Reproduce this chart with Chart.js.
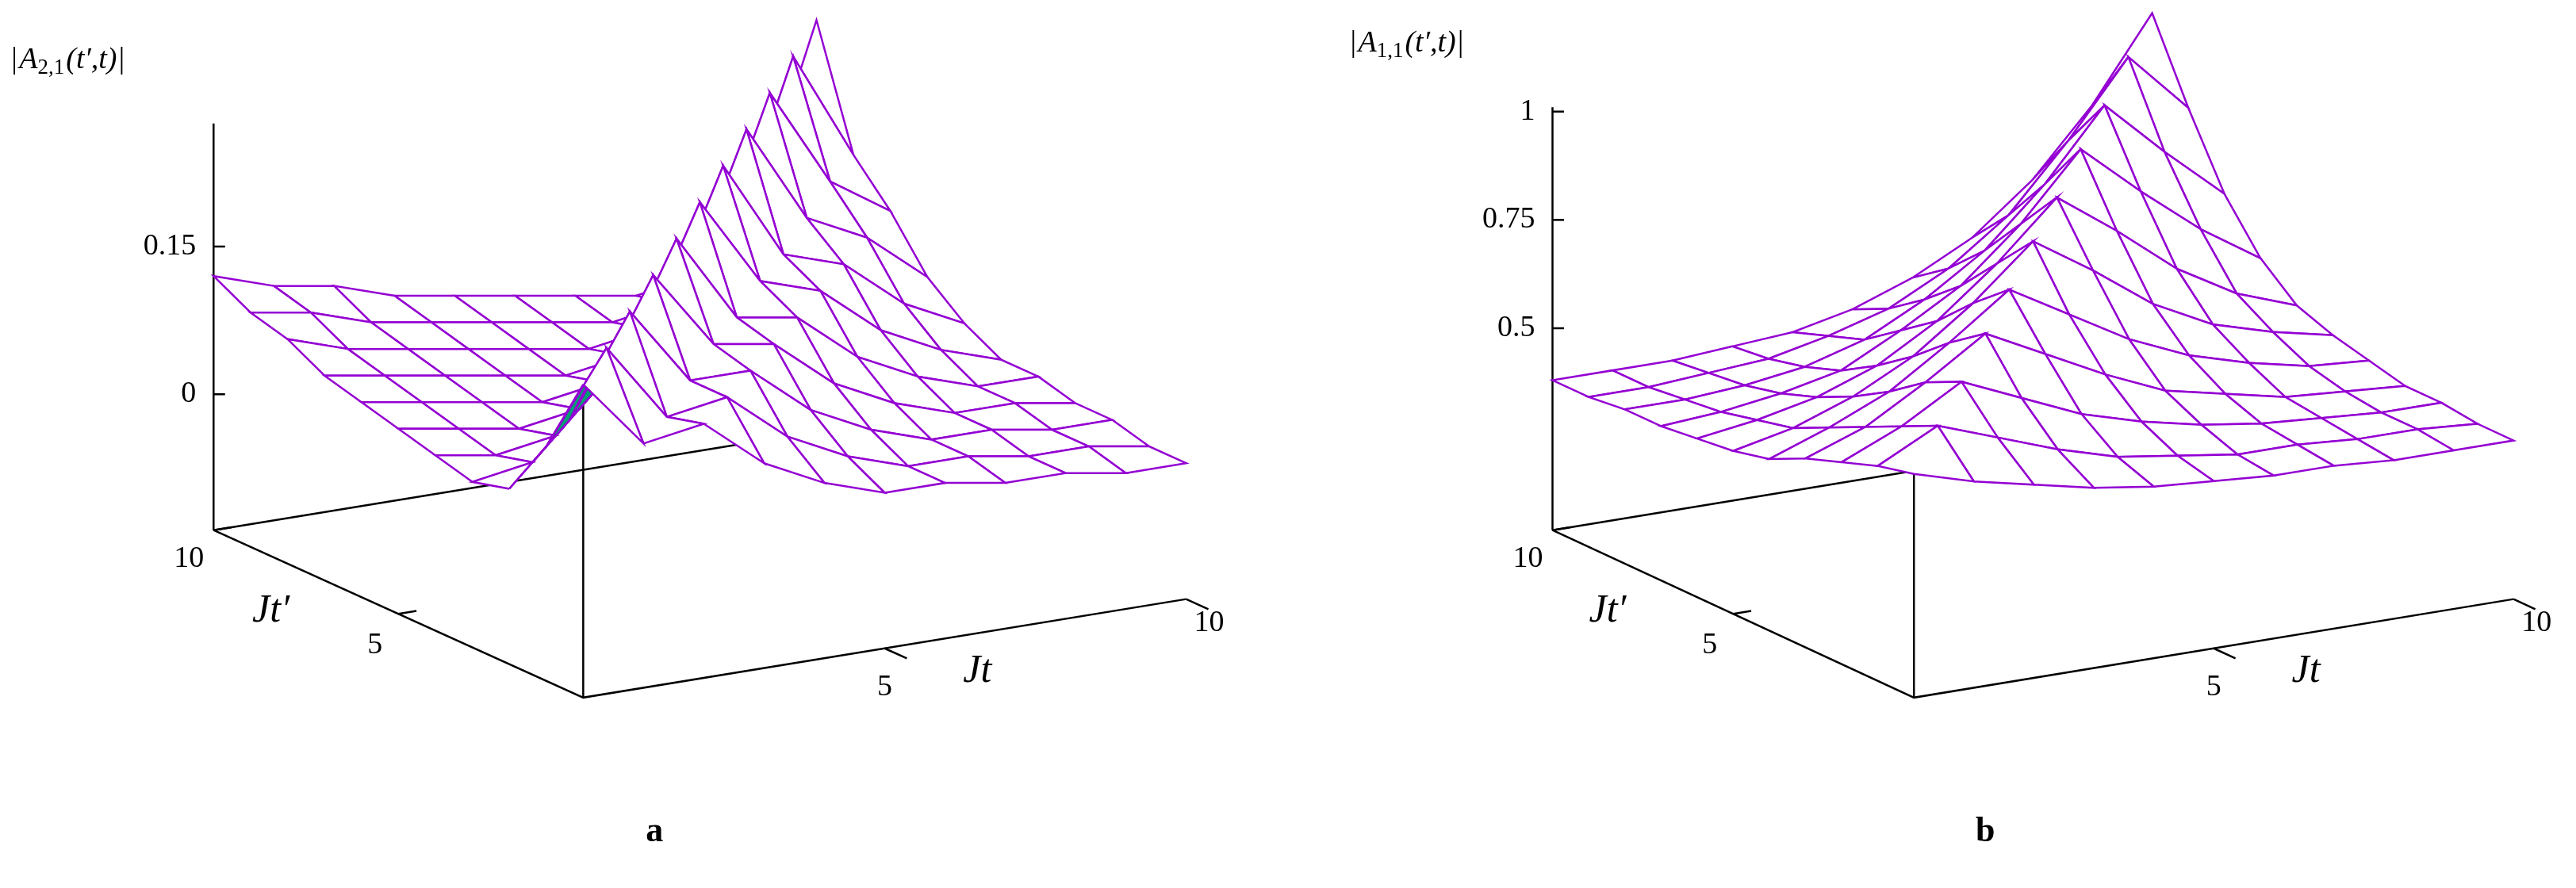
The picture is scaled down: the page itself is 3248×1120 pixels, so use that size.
<!DOCTYPE html>
<html>
<head>
<meta charset="utf-8">
<script src="https://cdn.jsdelivr.net/npm/chart.js@4/dist/chart.umd.min.js"></script>
<style>
  body { margin: 0; background: #fff; }
  canvas { display: block; }
</style>
</head>
<body>
<canvas id="chart" width="3248" height="1120"></canvas>
<script>
// grid axes (Jt' rows, Jt columns)
const tPrimeValues = [0, 1, 2, 3, 4, 5, 6, 7, 8, 9, 10];
const tValues = [0, 1, 2, 3, 4, 5, 6, 7, 8, 9, 10];

// |A_{2,1}(t',t)| (rows = Jt')
const a21 = [
  [0.18, 0.11, 0.12, 0.07, 0.04, 0.02, 0.02, 0.01, 0.01, 0.00, 0.00],
  [0.10, 0.19, 0.11, 0.12, 0.07, 0.04, 0.02, 0.02, 0.01, 0.01, 0.00],
  [0.04, 0.10, 0.20, 0.12, 0.12, 0.07, 0.04, 0.02, 0.02, 0.01, 0.01],
  [0.03, 0.04, 0.10, 0.21, 0.13, 0.12, 0.07, 0.04, 0.02, 0.02, 0.01],
  [0.04, 0.03, 0.04, 0.10, 0.22, 0.13, 0.12, 0.07, 0.04, 0.02, 0.02],
  [0.05, 0.04, 0.03, 0.04, 0.10, 0.23, 0.14, 0.12, 0.07, 0.04, 0.02],
  [0.06, 0.05, 0.04, 0.03, 0.04, 0.10, 0.24, 0.14, 0.12, 0.07, 0.04],
  [0.07, 0.06, 0.05, 0.04, 0.03, 0.04, 0.10, 0.25, 0.15, 0.12, 0.07],
  [0.09, 0.07, 0.06, 0.05, 0.04, 0.03, 0.04, 0.10, 0.26, 0.16, 0.12],
  [0.10, 0.09, 0.07, 0.06, 0.05, 0.04, 0.03, 0.04, 0.10, 0.27, 0.16],
  [0.12, 0.10, 0.09, 0.07, 0.06, 0.05, 0.04, 0.03, 0.04, 0.10, 0.28]
];

// |A_{1,1}(t',t)|
const a11 = [
  [0.55, 0.51, 0.48, 0.45, 0.43, 0.42, 0.41, 0.41, 0.40, 0.40, 0.40],
  [0.53, 0.60, 0.55, 0.50, 0.46, 0.44, 0.42, 0.42, 0.41, 0.41, 0.40],
  [0.50, 0.56, 0.64, 0.58, 0.52, 0.48, 0.45, 0.43, 0.42, 0.41, 0.41],
  [0.47, 0.52, 0.60, 0.69, 0.62, 0.55, 0.49, 0.46, 0.43, 0.42, 0.41],
  [0.43, 0.48, 0.54, 0.63, 0.73, 0.65, 0.57, 0.51, 0.47, 0.44, 0.43],
  [0.41, 0.44, 0.49, 0.56, 0.66, 0.78, 0.69, 0.59, 0.52, 0.48, 0.45],
  [0.40, 0.42, 0.45, 0.50, 0.58, 0.69, 0.82, 0.72, 0.61, 0.53, 0.48],
  [0.39, 0.40, 0.42, 0.45, 0.52, 0.60, 0.72, 0.87, 0.75, 0.64, 0.55],
  [0.39, 0.39, 0.40, 0.42, 0.46, 0.53, 0.62, 0.75, 0.91, 0.78, 0.66],
  [0.38, 0.38, 0.39, 0.40, 0.43, 0.47, 0.54, 0.64, 0.79, 0.96, 0.82],
  [0.38, 0.38, 0.38, 0.39, 0.40, 0.43, 0.48, 0.55, 0.66, 0.81, 1.00]
];

const zTicksA = [0, 0.15];
const zTickLabelsA = ['0', '0.15'];
const zTicksB = [0.5, 0.75, 1];
const zTickLabelsB = ['0.5', '0.75', '1'];
const xyTicks = [5, 10];

// view settings for each panel
const views = {
  a: { ox: 355, oy: 425, tx: 36.7, ty: -6, px: -22.5, py: -10.2, zs: 600, zmin: -0.138, ztop: 0.275 },
  b: { ox: 1165, oy: 425, tx: 36.5, ty: -6, px: -22, py: -10.2, zs: 264, zmin: 0.034, ztop: 1.01 }
};

const PURPLE = '#9400d3';
const GREEN = '#009e73';

function project(v, t, tp, z) {
  return {
    x: v.ox + t * v.tx + tp * v.px,
    y: v.oy + t * v.ty + tp * v.py - (z - v.zmin) * v.zs
  };
}

function surfaceDatasets(v, grid) {
  const sets = [];
  for (let i = 0; i < tPrimeValues.length - 1; i++) {
    for (let j = 0; j < tValues.length - 1; j++) {
      const p0 = project(v, tValues[j], tPrimeValues[i], grid[i][j]);
      const p1 = project(v, tValues[j + 1], tPrimeValues[i], grid[i][j + 1]);
      const p2 = project(v, tValues[j + 1], tPrimeValues[i + 1], grid[i + 1][j + 1]);
      const p3 = project(v, tValues[j], tPrimeValues[i + 1], grid[i + 1][j]);
      // facing from the diagonals, so twisted cells get one colour
      const cross = (p2.x - p0.x) * (p3.y - p1.y) - (p2.y - p0.y) * (p3.x - p1.x);
      sets.push({
        data: [p0, p1, p2, p3, p0],
        showLine: true,
        fill: 'shape',
        backgroundColor: cross < 0 ? '#ffffff' : GREEN,
        borderColor: PURPLE,
        borderWidth: 2.5,
        pointRadius: 0,
        order: i + j + 1
      });
    }
  }
  return sets;
}

function line(points, order) {
  return { data: points, showLine: true, fill: false, borderColor: '#000', borderWidth: 2.5, pointRadius: 0, order: order };
}

function axisDatasets(v, grid) {
  const O = project(v, 0, 0, v.zmin);
  const R = project(v, 10, 0, v.zmin);
  const L = project(v, 0, 10, v.zmin);
  const B = project(v, 10, 10, v.zmin);
  const Ltop = project(v, 0, 10, v.ztop);
  const Osurf = project(v, 0, 0, grid[0][0]);
  const sets = [line([L, O, R], 1000), line([L, B], 1000), line([L, Ltop], 1000), line([O, Osurf], 1000)];
  const tick = 7;
  (v === views.a ? zTicksA : zTicksB).forEach(z => {
    const p = project(v, 0, 10, z);
    sets.push(line([p, { x: p.x + tick, y: p.y }], 1000));
  });
  xyTicks.forEach(k => {
    const p = project(v, k, 0, v.zmin);
    sets.push(line([p, { x: p.x - 0.6 * v.px, y: p.y - 0.6 * v.py }], 1000));
    const q = project(v, 0, k, v.zmin);
    sets.push(line([q, { x: q.x + 0.3 * v.tx, y: q.y + 0.3 * v.ty }], 1000));
  });
  return sets;
}

const datasets = [
  ...axisDatasets(views.a, a21), ...surfaceDatasets(views.a, a21),
  ...axisDatasets(views.b, a11), ...surfaceDatasets(views.b, a11)
];

const SERIF = '"Liberation Serif", "DejaVu Serif", serif';

const labelsPlugin = {
  id: 'labels',
  afterDraw(chart) {
    const ctx = chart.ctx;
    const xs = chart.scales.x, ys = chart.scales.y;
    const px = p => ({ x: xs.getPixelForValue(p.x), y: ys.getPixelForValue(p.y) });
    const text = (s, p, align, font, base) => {
      ctx.font = font; ctx.fillStyle = '#000';
      ctx.textAlign = align; ctx.textBaseline = base || 'middle';
      ctx.fillText(s, p.x, p.y);
    };
    const panels = [
      { v: views.a, ticks: zTicksA, labels: zTickLabelsA, sub: '2,1', letter: 'a' },
      { v: views.b, ticks: zTicksB, labels: zTickLabelsB, sub: '1,1', letter: 'b' }
    ];
    panels.forEach(pn => {
      const v = pn.v;
      pn.ticks.forEach((z, k) => {
        const p = px(project(v, 0, 10, z));
        text(pn.labels[k], { x: p.x - 22, y: p.y }, 'right', '38px ' + SERIF);
      });
      const L = px(project(v, 0, 10, v.zmin));
      text('10', { x: L.x - 12, y: L.y + 36 }, 'right', '38px ' + SERIF);
      const q5 = px(project(v, 0, 5, v.zmin));
      text('5', { x: q5.x - 20, y: q5.y + 40 }, 'right', '38px ' + SERIF);
      const t5 = px(project(v, 5, 0, v.zmin));
      text('5', { x: t5.x, y: t5.y + 30 }, 'center', '38px ' + SERIF, 'top');
      const R = px(project(v, 10, 0, v.zmin));
      text('10', { x: R.x + 10, y: R.y + 30 }, 'left', '38px ' + SERIF);
      const jtp = px(project(v, 0, 7.3, v.zmin));
      text('Jt\u2032', { x: jtp.x - 30, y: jtp.y + 45 }, 'right', 'italic 50px ' + SERIF);
      const jt = px(project(v, 6.3, 0, v.zmin));
      text('Jt', { x: jt.x, y: jt.y + 45 }, 'left', 'italic 50px ' + SERIF);
      // axis title |A_{i,j}(t',t)|
      const top = px(project(v, 0, 10, v.ztop));
      let x = top.x - 255, y = top.y - 80;
      text('|', { x: x, y: y }, 'left', '38px ' + SERIF);
      x += 10;
      text('A', { x: x, y: y }, 'left', 'italic 38px ' + SERIF);
      ctx.font = 'italic 38px ' + SERIF; x += ctx.measureText('A').width;
      text(pn.sub, { x: x, y: y + 10 }, 'left', '27px ' + SERIF);
      ctx.font = '27px ' + SERIF; x += ctx.measureText(pn.sub).width + 2;
      text('(t\u2032,t)|', { x: x, y: y }, 'left', 'italic 38px ' + SERIF);
      const O = px(project(v, 0, 0, v.zmin));
      text(pn.letter, { x: O.x + 90, y: O.y + 170 }, 'center', 'bold 44px ' + SERIF);
    });
  }
};

new Chart(document.getElementById('chart'), {
  type: 'scatter',
  data: { datasets: datasets },
  options: {
    responsive: false,
    devicePixelRatio: 1,
    animation: false,
    layout: { padding: 0 },
    plugins: { legend: { display: false }, tooltip: { enabled: false } },
    scales: {
      x: { type: 'linear', min: 0, max: 1568, display: false },
      y: { type: 'linear', min: 0, max: 541, reverse: true, display: false }
    }
  },
  plugins: [labelsPlugin]
});
</script>
</body>
</html>
